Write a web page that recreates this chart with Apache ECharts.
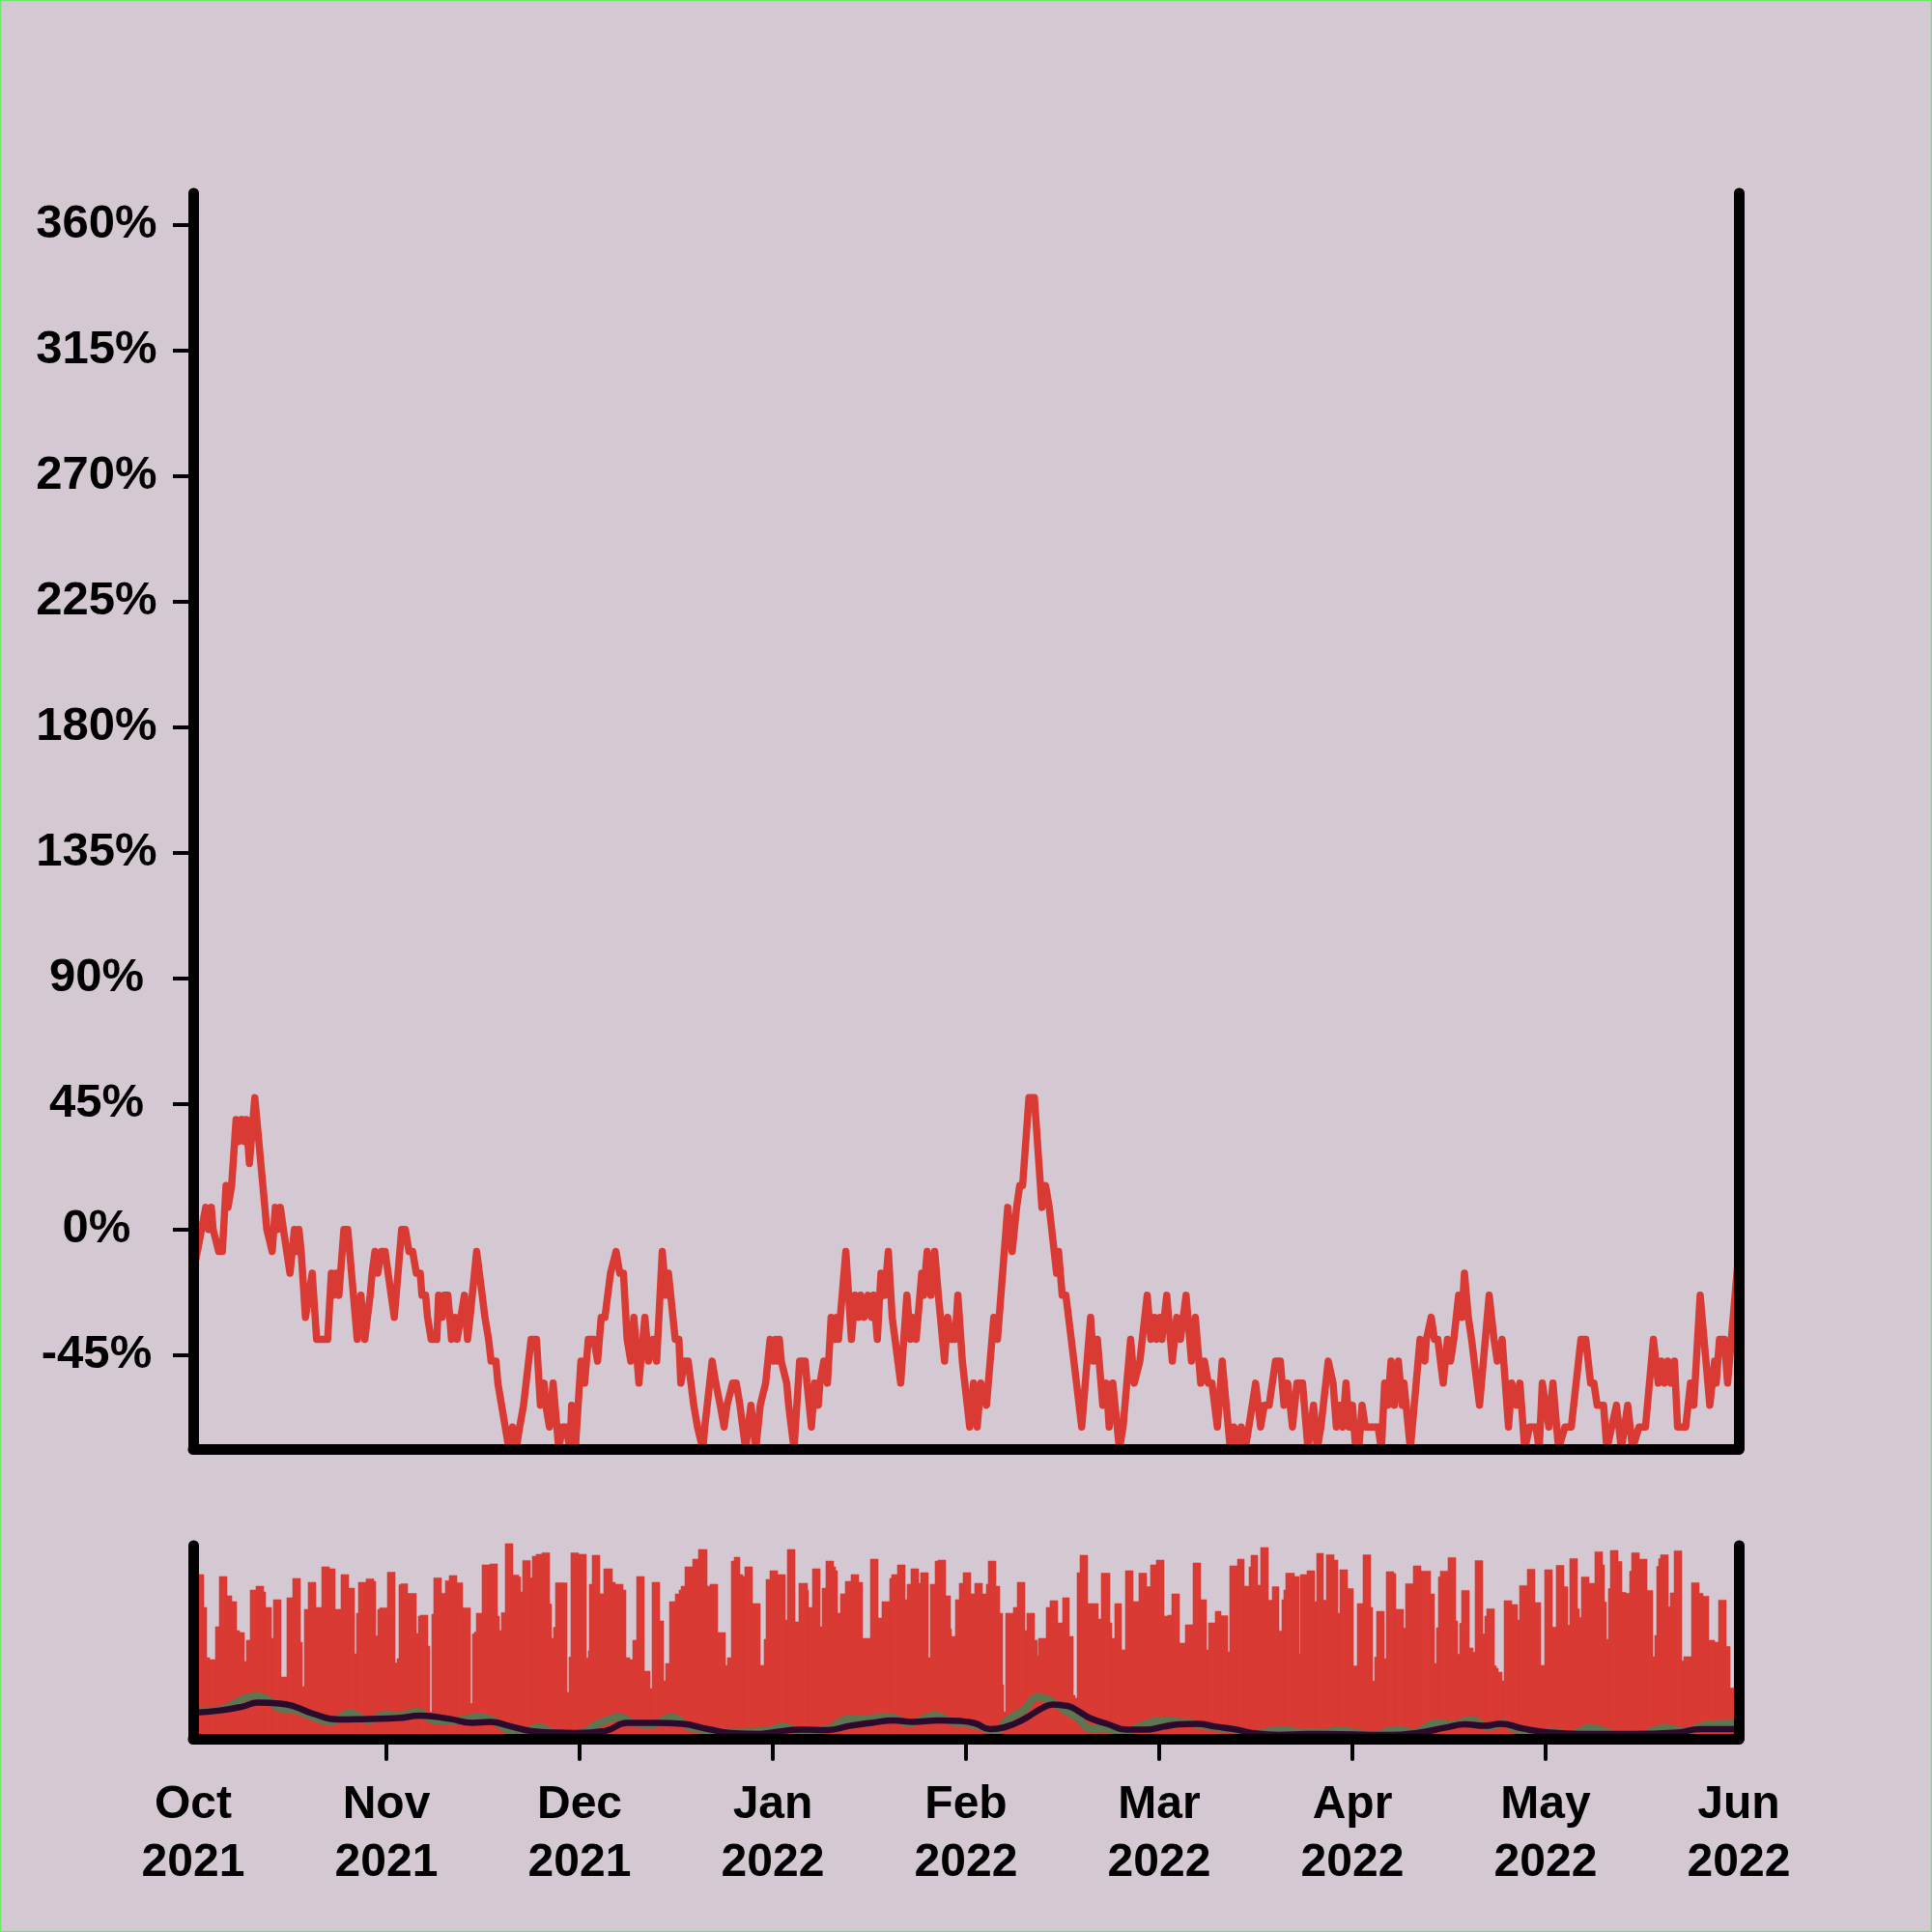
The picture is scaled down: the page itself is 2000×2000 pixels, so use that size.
<!DOCTYPE html>
<html><head><meta charset="utf-8">
<script src="https://cdn.jsdelivr.net/npm/echarts@6/dist/echarts.min.js"></script>
<style>html,body{margin:0;padding:0;background:#D4C9D2;}#c{width:2000px;height:2000px;}</style>
</head><body><div id="c"></div>
<script>
// x positions are months since 1 Oct 2021 (0 = Oct 2021 ... 8 = Jun 2022)
const monthLabels = ['Oct','Nov','Dec','Jan','Feb','Mar','Apr','May','Jun'];
const yearLabels = ['2021','2021','2021','2022','2022','2022','2022','2022','2022'];
const monthTicks = [0,1,2,3,4,5,6,7,8];
const innerMonthTicks = [1,2,3,4,5,6,7];
const pctTicks = [-45,0,45,90,135,180,225,270,315,360];

// main panel: percent change [month, %]
const changePoints = [[0,-15.7],[0.065,7.9],[0.08,0],[0.094,7.9],[0.103,0],[0.132,-7.9],[0.151,-7.9],[0.17,15.7],[0.18,7.9],[0.199,15.7],[0.222,39.4],[0.237,31.5],[0.252,39.4],[0.266,31.5],[0.275,39.4],[0.291,23.6],[0.319,47.2],[0.371,7.9],[0.381,0],[0.409,-7.9],[0.425,7.9],[0.438,0],[0.451,7.9],[0.467,0],[0.501,-15.7],[0.524,0],[0.534,-7.9],[0.547,0],[0.559,-7.9],[0.581,-31.5],[0.616,-15.7],[0.639,-39.4],[0.668,-39.4],[0.696,-39.4],[0.715,-15.7],[0.725,-23.6],[0.738,-15.7],[0.754,-23.6],[0.78,0],[0.8,0],[0.849,-39.4],[0.868,-23.6],[0.888,-39.4],[0.916,-23.6],[0.926,-15.7],[0.941,-7.9],[0.955,-15.7],[0.974,-7.9],[0.993,-7.9],[1.041,-31.5],[1.079,0],[1.098,0],[1.117,-7.9],[1.136,-7.9],[1.155,-15.7],[1.175,-15.7],[1.184,-23.6],[1.203,-23.6],[1.213,-31.5],[1.232,-39.4],[1.261,-39.4],[1.27,-23.6],[1.289,-31.5],[1.299,-23.6],[1.318,-23.6],[1.328,-31.5],[1.337,-39.4],[1.356,-31.5],[1.366,-39.4],[1.385,-31.5],[1.404,-23.6],[1.42,-39.4],[1.433,-31.5],[1.467,-7.9],[1.496,-23.6],[1.51,-31.5],[1.529,-39.4],[1.542,-47.2],[1.567,-47.2],[1.577,-55.1],[1.615,-70.8],[1.634,-78.7],[1.653,-70.8],[1.672,-78.7],[1.69,-70.8],[1.71,-63],[1.749,-39.4],[1.777,-39.4],[1.797,-63],[1.816,-55.1],[1.825,-63],[1.844,-70.8],[1.863,-55.1],[1.892,-78.7],[1.911,-70.8],[1.93,-70.8],[1.95,-78.7],[1.959,-63],[1.978,-78.7],[2.007,-47.2],[2.026,-55.1],[2.045,-39.4],[2.074,-39.4],[2.093,-47.2],[2.112,-31.5],[2.131,-31.5],[2.16,-15.7],[2.189,-7.9],[2.208,-15.7],[2.227,-15.7],[2.246,-39.4],[2.265,-47.2],[2.281,-31.5],[2.307,-55.1],[2.338,-31.5],[2.357,-47.2],[2.38,-39.4],[2.399,-47.2],[2.428,-7.9],[2.447,-23.6],[2.46,-15.7],[2.495,-39.4],[2.514,-39.4],[2.524,-55.1],[2.543,-47.2],[2.562,-47.2],[2.591,-63],[2.61,-70.8],[2.638,-78.7],[2.648,-70.8],[2.686,-47.2],[2.705,-55.1],[2.728,-63],[2.748,-70.8],[2.763,-63],[2.792,-55.1],[2.811,-55.1],[2.83,-63],[2.859,-78.7],[2.887,-63],[2.912,-78.7],[2.935,-63],[2.963,-55.1],[2.986,-39.4],[3.005,-47.2],[3.015,-39.4],[3.024,-47.2],[3.034,-39.4],[3.044,-47.2],[3.053,-47.2],[3.072,-55.1],[3.082,-63],[3.11,-78.7],[3.139,-47.2],[3.168,-47.2],[3.177,-55.1],[3.2,-70.8],[3.216,-55.1],[3.235,-63],[3.244,-55.1],[3.264,-47.2],[3.283,-55.1],[3.302,-31.5],[3.321,-39.4],[3.331,-31.5],[3.34,-39.4],[3.378,-7.9],[3.407,-39.4],[3.426,-23.6],[3.445,-31.5],[3.455,-23.6],[3.474,-31.5],[3.493,-23.6],[3.512,-31.5],[3.522,-23.6],[3.541,-39.4],[3.56,-15.7],[3.579,-23.6],[3.598,-7.9],[3.618,-31.5],[3.662,-55.1],[3.694,-23.6],[3.713,-39.4],[3.723,-31.5],[3.742,-39.4],[3.771,-15.7],[3.78,-23.6],[3.799,-7.9],[3.818,-23.6],[3.838,-7.9],[3.857,-23.6],[3.889,-47.2],[3.905,-31.5],[3.924,-39.4],[3.943,-39.4],[3.958,-23.6],[3.981,-47.2],[4.019,-70.8],[4.039,-55.1],[4.058,-70.8],[4.077,-55.1],[4.106,-63],[4.125,-47.2],[4.144,-31.5],[4.163,-39.4],[4.216,7.9],[4.239,-7.9],[4.262,7.9],[4.278,15.7],[4.293,15.7],[4.326,47.2],[4.354,47.2],[4.393,7.9],[4.412,15.7],[4.431,7.9],[4.44,7.9],[4.469,-15.7],[4.479,-7.9],[4.498,-23.6],[4.517,-23.6],[4.545,-39.4],[4.599,-70.8],[4.645,-31.5],[4.66,-47.2],[4.68,-39.4],[4.708,-63],[4.727,-55.1],[4.741,-70.8],[4.76,-55.1],[4.794,-78.7],[4.813,-70.8],[4.852,-39.4],[4.871,-55.1],[4.9,-47.2],[4.938,-23.6],[4.957,-39.4],[4.976,-31.5],[4.986,-39.4],[5.005,-31.5],[5.014,-39.4],[5.039,-23.6],[5.068,-47.2],[5.091,-31.5],[5.11,-39.4],[5.139,-23.6],[5.167,-47.2],[5.187,-31.5],[5.215,-55.1],[5.234,-47.2],[5.254,-55.1],[5.273,-55.1],[5.301,-70.8],[5.326,-47.2],[5.368,-78.7],[5.387,-70.8],[5.407,-78.7],[5.425,-70.8],[5.445,-78.7],[5.464,-70.8],[5.499,-55.1],[5.525,-70.8],[5.544,-63],[5.569,-63],[5.602,-47.2],[5.627,-47.2],[5.646,-63],[5.665,-55.1],[5.69,-70.8],[5.713,-55.1],[5.742,-55.1],[5.77,-78.7],[5.799,-63],[5.818,-78.7],[5.837,-70.8],[5.875,-47.2],[5.9,-55.1],[5.917,-70.8],[5.933,-63],[5.95,-70.8],[5.967,-55.1],[5.983,-70.8],[6,-63],[6.017,-78.7],[6.033,-78.7],[6.05,-63],[6.067,-70.8],[6.1,-70.8],[6.133,-70.8],[6.15,-78.7],[6.167,-55.1],[6.183,-63],[6.2,-47.2],[6.217,-63],[6.238,-47.2],[6.258,-63],[6.267,-55.1],[6.3,-78.7],[6.35,-39.4],[6.375,-47.2],[6.383,-39.4],[6.408,-31.5],[6.425,-39.4],[6.442,-39.4],[6.47,-55.1],[6.492,-39.4],[6.508,-47.2],[6.525,-39.4],[6.55,-23.6],[6.567,-31.5],[6.58,-15.7],[6.6,-31.5],[6.617,-39.4],[6.658,-63],[6.708,-23.6],[6.733,-39.4],[6.75,-47.2],[6.775,-39.4],[6.808,-70.8],[6.825,-55.1],[6.85,-63],[6.867,-55.1],[6.892,-78.7],[6.917,-70.8],[6.95,-70.8],[6.967,-78.7],[6.983,-55.1],[7.017,-70.8],[7.038,-55.1],[7.067,-78.7],[7.1,-70.8],[7.133,-70.8],[7.183,-39.4],[7.208,-39.4],[7.233,-55.1],[7.25,-55.1],[7.267,-63],[7.3,-63],[7.317,-78.7],[7.367,-63],[7.392,-78.7],[7.425,-63],[7.45,-78.7],[7.483,-70.8],[7.517,-70.8],[7.558,-39.4],[7.583,-55.1],[7.6,-47.2],[7.617,-55.1],[7.633,-47.2],[7.65,-55.1],[7.667,-47.2],[7.683,-70.8],[7.725,-70.8],[7.75,-55.1],[7.767,-63],[7.8,-23.6],[7.85,-63],[7.875,-47.2],[7.883,-55.1],[7.9,-39.4],[7.925,-39.4],[7.942,-55.1],[8,-7.9]];

// lower panel: visible bar blocks [start month, height % of panel]; each block runs to the next start
const barBlocks = [[0,85],[0.053,68],[0.072,42],[0.084,41],[0.115,58],[0.136,84],[0.176,74],[0.201,71],[0.226,56],[0.241,55],[0.264,40],[0.275,51],[0.294,77],[0.325,79],[0.363,76],[0.375,68],[0.403,52],[0.415,72],[0.455,32],[0.486,73],[0.513,83],[0.553,50],[0.564,27],[0.576,67],[0.595,81],[0.633,68],[0.666,89],[0.706,88],[0.733,67],[0.765,85],[0.803,78],[0.834,44],[0.844,65],[0.855,81],[0.893,82.8],[0.937,81.5],[0.945,53.3],[0.955,67],[0.967,67.8],[1.005,86.2],[1.045,39.3],[1.055,41.5],[1.065,79.7],[1.075,80.3],[1.112,75.2],[1.155,54.5],[1.165,63.5],[1.175,64],[1.215,48],[1.225,13.7],[1.235,64.5],[1.245,83.3],[1.285,75.3],[1.305,81.8],[1.325,84.5],[1.365,80.8],[1.395,67.8],[1.435,18.3],[1.445,54.3],[1.455,55.3],[1.465,65],[1.495,90],[1.535,90.5],[1.575,63.5],[1.585,56],[1.595,65.3],[1.615,101],[1.655,84.8],[1.685,83.8],[1.695,76],[1.705,92.3],[1.745,83.3],[1.755,94.5],[1.775,95.5],[1.805,96.3],[1.845,69.7],[1.855,52],[1.865,57.7],[1.875,80.8],[1.915,80.7],[1.935,24],[1.945,42.3],[1.955,96.2],[1.995,95.5],[2.035,41.8],[2.045,45.5],[2.051,80],[2.064,95],[2.105,75],[2.126,88],[2.17,81],[2.183,80],[2.227,77],[2.24,42],[2.26,41],[2.277,51],[2.296,84],[2.336,35],[2.365,26],[2.376,81],[2.415,61],[2.434,30],[2.445,39],[2.464,71],[2.495,75],[2.514,77],[2.527,79],[2.543,89],[2.587,93],[2.617,98],[2.658,79],[2.673,80],[2.717,55],[2.755,38],[2.767,42],[2.786,92],[2.801,94],[2.832,85],[2.843,84],[2.855,89],[2.893,70],[2.934,38],[2.957,51.5],[2.967,82.5],[2.986,87],[3.024,85],[3.066,61.5],[3.076,98],[3.114,60.5],[3.135,80.5],[3.179,77],[3.187,68],[3.206,88],[3.244,58],[3.256,78],[3.275,92],[3.313,89],[3.325,87],[3.336,65],[3.348,75],[3.375,81.5],[3.405,85],[3.445,81],[3.466,52],[3.505,93],[3.545,62.5],[3.566,71],[3.604,83],[3.616,85],[3.644,90],[3.685,72],[3.696,80],[3.715,88],[3.753,80.5],[3.765,86],[3.807,42],[3.815,80],[3.838,92],[3.857,92.5],[3.895,74],[3.918,56.7],[3.926,53],[3.945,72],[3.966,80.5],[3.985,86],[4.025,75],[4.044,80.5],[4.086,75],[4.106,80],[4.117,92],[4.155,79],[4.176,65],[4.19,28],[4.197,14],[4.205,65],[4.245,68],[4.264,81],[4.305,56],[4.316,65],[4.354,51],[4.368,43],[4.377,52],[4.416,68],[4.435,71.5],[4.475,60],[4.498,73],[4.536,53],[4.557,22.5],[4.565,21],[4.576,86],[4.588,95],[4.632,70],[4.647,70],[4.685,62],[4.699,85.7],[4.743,60],[4.756,52],[4.768,70],[4.806,46],[4.825,87],[4.863,71],[4.896,85.7],[4.934,78.7],[4.953,90],[4.986,92.5],[5.024,63.5],[5.047,64],[5.066,75],[5.104,49.5],[5.135,59],[5.173,91],[5.215,72],[5.246,46],[5.257,60],[5.288,66],[5.322,63.7],[5.357,45],[5.365,89.5],[5.403,93],[5.441,79],[5.464,89],[5.476,95],[5.512,79.5],[5.525,99],[5.564,71.7],[5.583,78.7],[5.621,55.7],[5.633,72],[5.644,77],[5.655,85.7],[5.698,84],[5.724,44],[5.732,85],[5.763,87],[5.805,71],[5.816,96],[5.85,71.7],[5.863,95.3],[5.905,92.5],[5.925,65],[5.935,87.5],[5.975,77.7],[6.005,37.7],[6.025,70],[6.055,95.2],[6.095,68],[6.105,29.8],[6.115,42.2],[6.125,66],[6.165,41.5],[6.175,86.5],[6.215,85.5],[6.225,67],[6.265,57.3],[6.275,80.3],[6.315,89.5],[6.355,86.8],[6.405,75],[6.425,39],[6.435,57.5],[6.445,83.8],[6.455,86.8],[6.495,93.8],[6.535,61],[6.545,43.8],[6.555,59.7],[6.565,76.8],[6.605,47],[6.625,44.8],[6.635,92.2],[6.675,54.3],[6.685,63.5],[6.695,67.3],[6.735,37.8],[6.745,36.5],[6.755,34.5],[6.775,30],[6.785,71.5],[6.825,69.5],[6.855,61.5],[6.865,79.3],[6.905,87.8],[6.945,70.5],[6.975,38],[6.995,87.5],[7.035,57.8],[7.055,89.7],[7.095,78.7],[7.115,58.7],[7.125,93.3],[7.165,67.3],[7.175,62.8],[7.185,83.8],[7.225,80.5],[7.255,96.8],[7.295,90],[7.305,70.8],[7.315,51.5],[7.325,77.7],[7.335,97.5],[7.375,91.8],[7.395,75.8],[7.415,75.3],[7.435,86.7],[7.445,96.3],[7.485,93],[7.525,76.8],[7.555,42.5],[7.565,53.5],[7.575,89.2],[7.585,93.2],[7.595,95.2],[7.635,68.3],[7.645,75.5],[7.665,97.3],[7.705,40.3],[7.715,42.5],[7.755,80.8],[7.795,75.3],[7.815,73.8],[7.845,51],[7.875,50],[7.895,71.8],[7.935,47.8],[7.955,26.3]];
const barEnd = 8;

const greenPoints = [[0,14.2],[0.141,15],[0.199,17.5],[0.275,21.3],[0.333,22],[0.39,20],[0.447,15.8],[0.524,15],[0.62,11.3],[0.715,8.7],[0.811,13.3],[0.907,9.5],[1.002,12.8],[1.06,11.7],[1.155,14],[1.251,9.5],[1.328,9.2],[1.481,11.3],[1.557,9.2],[1.634,4.2],[1.71,3.3],[1.787,6],[1.864,3.3],[1.94,1.7],[2.017,3.3],[2.093,7.5],[2.208,11.3],[2.284,8],[2.38,7.5],[2.476,11.3],[2.571,6],[2.667,4.2],[2.782,3.3],[2.878,3.7],[2.977,4.2],[3.053,6.3],[3.13,4.2],[3.283,5],[3.378,10],[3.474,10.3],[3.608,11.3],[3.704,8],[3.838,12],[3.933,8.7],[4.01,8],[4.086,6],[4.144,3.3],[4.22,10],[4.297,14.7],[4.373,21.7],[4.431,20],[4.507,15],[4.584,10.3],[4.641,5.3],[4.718,5.3],[4.813,3.3],[4.909,6.7],[5.005,9.2],[5.101,8.7],[5.196,7.5],[5.292,5.8],[5.388,4.7],[5.483,2.5],[5.636,4.7],[5.732,3.3],[5.85,3.3],[5.933,4.2],[6.017,3.3],[6.1,1.7],[6.233,4.7],[6.317,3.3],[6.433,8],[6.517,7.5],[6.617,9.7],[6.7,6.3],[6.783,8],[6.85,4.7],[6.933,2.5],[7.042,3.7],[7.117,2],[7.233,5.8],[7.35,2.5],[7.483,1.7],[7.617,5.8],[7.717,3.7],[7.833,7.2],[8,8]];
const purplePoints = [[0,13.5],[0.141,14.7],[0.256,16.7],[0.333,18.7],[0.447,18.3],[0.524,16.7],[0.62,13],[0.754,10],[0.907,10.3],[1.06,10.7],[1.175,12],[1.328,10.3],[1.443,8.3],[1.538,8.7],[1.634,6.7],[1.749,4],[1.864,3.3],[1.978,3],[2.131,4],[2.246,8.3],[2.399,8.3],[2.533,7.7],[2.667,5],[2.782,3],[2.935,2.5],[2.996,3.3],[3.149,4.7],[3.283,4.5],[3.397,6.7],[3.512,8.3],[3.627,9.5],[3.723,8.8],[3.857,9.5],[3.972,9.2],[4.048,8],[4.125,5],[4.201,6],[4.297,10],[4.393,15.8],[4.45,17.8],[4.526,17],[4.584,14.2],[4.641,10.7],[4.737,7.5],[4.833,4.7],[4.928,4.7],[5.024,6.3],[5.101,7.5],[5.196,7.8],[5.292,6.3],[5.388,5],[5.483,3],[5.617,2],[5.77,2.5],[5.85,2.5],[6.183,2],[6.35,3.3],[6.483,5.8],[6.583,7.5],[6.683,6.7],[6.767,7.8],[6.883,5.3],[7.017,3.3],[7.183,2.5],[7.433,2.5],[7.683,3.3],[7.8,5],[8,5]];

const RED = '#DA3A34', GREEN = '#5D7551', PURPLE = '#2C0A2D', BG = '#D4C9D2', INK = '#000000';
const FONT = '"Liberation Sans", Arial, sans-serif';

const barData = barBlocks.map((b, i) => [b[0], i + 1 < barBlocks.length ? barBlocks[i + 1][0] : barEnd, b[1]]);

const axisLine = {show: true, onZero: false, lineStyle: {color: INK, width: 11, cap: 'round'}};
const plainAxis = (grid, pos, min, max) => ({
  type: 'value', gridIndex: grid, position: pos, min: min, max: max, z: 10,
  axisLine: axisLine, axisTick: {show: false}, axisLabel: {show: false}, splitLine: {show: false}
});

const chart = echarts.init(document.getElementById('c'), null, {renderer: 'canvas'});
chart.setOption({
  backgroundColor: BG,
  animation: false,
  graphic: [{type: 'rect', shape: {x: 0.5, y: 0.5, width: 1999, height: 1999}, style: {fill: 'none', stroke: '#6BE86B', lineWidth: 1.5}, z: 100}],
  grid: [
    {left: 200, right: 200, top: 200, bottom: 500, containLabel: false},
    {left: 200, right: 200, top: 1600, bottom: 200, containLabel: false}
  ],
  xAxis: [
    plainAxis(0, 'bottom', 0, 8),
    {
      type: 'value', gridIndex: 1, position: 'bottom', min: 0, max: 8, interval: 1, z: 10,
      axisLine: axisLine,
      axisTick: {show: true, customValues: innerMonthTicks, length: 21, lineStyle: {color: INK, width: 4, cap: 'round'}},
      axisLabel: {show: true, customValues: monthTicks, margin: 39, color: INK, fontSize: 48, fontWeight: 'bold', fontFamily: FONT, lineHeight: 60,
        formatter: v => monthLabels[Math.round(v)] + '\n' + yearLabels[Math.round(v)]},
      splitLine: {show: false}
    }
  ],
  yAxis: [
    {
      type: 'value', gridIndex: 0, position: 'left', min: -78.7, max: 371.4, z: 10,
      axisLine: axisLine,
      axisTick: {show: true, customValues: pctTicks, length: 21, lineStyle: {color: INK, width: 4}},
      axisLabel: {show: true, customValues: pctTicks, margin: 100, align: 'center', color: INK, fontSize: 49, fontWeight: 'bold', fontFamily: FONT,
        formatter: v => v + '%'},
      splitLine: {show: false}
    },
    plainAxis(0, 'right', -78.7, 371.4),
    plainAxis(1, 'left', 0, 100),
    plainAxis(1, 'right', 0, 100)
  ],
  series: [
    {
      type: 'line', xAxisIndex: 0, yAxisIndex: 0, data: changePoints, showSymbol: false, z: 2,
      lineStyle: {color: RED, width: 7.5, join: 'round', cap: 'round'}
    },
    {
      type: 'custom', xAxisIndex: 1, yAxisIndex: 2, data: barData, z: 2,
      encode: {x: [0, 1], y: 2},
      renderItem: function (params, api) {
        const p0 = api.coord([api.value(0), api.value(2)]);
        const p1 = api.coord([api.value(1), 0]);
        const x0 = Math.round(p0[0]), x1 = Math.round(p1[0]);
        return {type: 'rect', shape: {x: x0, y: p0[1], width: x1 - x0, height: p1[1] - p0[1]}, style: {fill: RED, stroke: RED, lineWidth: 0.6}};
      }
    },
    {
      type: 'line', xAxisIndex: 1, yAxisIndex: 2, data: greenPoints, showSymbol: false, smooth: 0.4, z: 3,
      lineStyle: {color: GREEN, width: 8}
    },
    {
      type: 'line', xAxisIndex: 1, yAxisIndex: 2, data: purplePoints, showSymbol: false, smooth: 0.5, z: 4,
      lineStyle: {color: PURPLE, width: 6.5}
    }
  ]
});
</script></body></html>
